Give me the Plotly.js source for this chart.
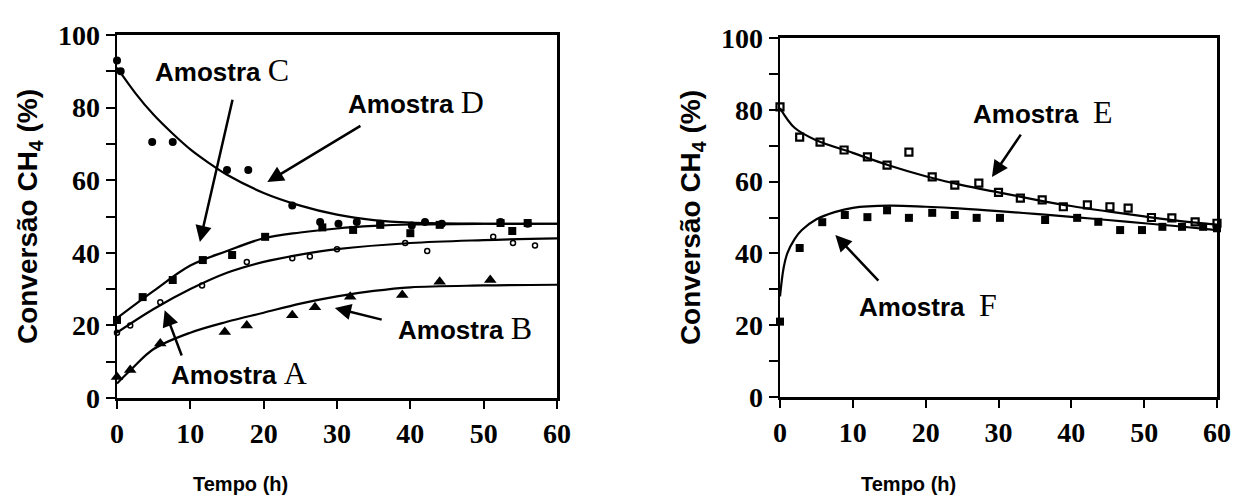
<!DOCTYPE html>
<html>
<head>
<meta charset="utf-8">
<script src="https://cdn.plot.ly/plotly-3.0.1.min.js"></script>
<style>html,body{margin:0;padding:0;background:#fff;}#chart{width:1242px;height:504px;}</style>
</head>
<body>
<div id="chart"></div>
<script>
// ---------- Left panel: measured points ----------
const tA = [0, 1.8, 5.9, 14.7, 17.7, 23.9, 27, 31.8, 38.9, 44, 50.9];
const convA = [5.8, 7.7, 15, 18.2, 20, 22.8, 25, 27.9, 28.4, 32, 32.5];

const tB = [0, 1.8, 5.9, 11.6, 17.7, 23.9, 26.3, 30, 39.3, 42.3, 51.3, 54, 57];
const convB = [18, 20, 26.4, 31, 37.5, 38.5, 39, 41, 42.7, 40.5, 44.4, 42.7, 42];

const tC = [0, 3.5, 7.6, 11.7, 15.7, 20.2, 28, 32.2, 35.9, 40, 44, 52.3, 53.9, 56];
const convC = [21.5, 27.8, 32.5, 38, 39.4, 44.4, 47, 46.3, 47.7, 45.4, 47.7, 48.2, 46, 48.2];

const tD = [0, 0.5, 4.8, 7.6, 15, 17.9, 23.9, 27.7, 30.2, 32.7, 35.9, 40.2, 42, 44.3, 52.3, 56];
const convD = [93, 90, 70.5, 70.5, 62.8, 62.8, 53, 48.5, 48, 48.5, 48, 47.5, 48.5, 48, 48.5, 48];

// ---------- Left panel: fitted curves ----------
const fitAx = [0, 2, 5, 10, 15, 20, 25, 30, 35, 40, 50, 60];
const fitAy = [4, 8, 13.5, 18, 21, 23.5, 26, 28, 29.5, 30.5, 31, 31.2];
const fitBx = [0, 5, 10, 15, 20, 25, 30, 40, 50, 60];
const fitBy = [18, 24.5, 30, 34.5, 37.5, 39.5, 41, 42.7, 43.5, 44];
const fitCx = [0, 5, 10, 15, 20, 25, 30, 35, 40, 50, 60];
const fitCy = [22, 29.5, 36.5, 40.5, 44, 45.6, 46.7, 47.4, 47.8, 48, 48];
const fitDx = [0, 2.5, 5, 7.5, 10, 12.5, 15, 20, 25, 30, 35, 40, 50, 60];
const fitDy = [91, 84, 78, 73, 68.5, 64.8, 61.5, 56.5, 53, 50.5, 49, 48.3, 48, 48];

// ---------- Right panel: measured points ----------
const tE = [0, 2.7, 5.5, 8.8, 12, 14.7, 17.7, 20.9, 24, 27.3, 30, 33, 36, 38.9, 42.2, 45.3, 47.8, 51, 53.8, 57, 60];
const convE = [80.8, 72.4, 71, 68.8, 66.9, 64.6, 68.2, 61.3, 59, 59.6, 57, 55.4, 54.9, 53, 53.5, 53, 52.6, 50, 49.9, 48.8, 48.4];

const tF = [0, 2.7, 5.8, 8.9, 12, 14.7, 17.7, 20.9, 24, 27, 30.2, 36.4, 40.8, 43.7, 46.7, 49.7, 52.5, 55.2, 58.1, 60];
const convF = [21, 41.5, 48.7, 50.7, 50.1, 52, 49.9, 51.3, 50.7, 49.9, 49.9, 49.3, 49.9, 48.8, 46.5, 46.5, 47.4, 47.4, 47.4, 47];

// ---------- Right panel: fitted curves ----------
const fitEx = [0, 2, 5, 10, 15, 20, 25, 30, 35, 40, 45, 50, 55, 60];
const fitEy = [80.5, 75, 71.5, 68, 64.5, 61.5, 59, 57, 55, 53.2, 51.7, 50.3, 49, 48];
const fitFx = [0, 0.5, 1, 2, 3, 5, 7.5, 10, 15, 20, 25, 30, 35, 40, 45, 50, 55, 60];
const fitFy = [28, 36, 40, 44, 46.5, 49.5, 51.5, 52.7, 53.3, 53, 52.5, 51.8, 51, 50.2, 49.3, 48.4, 47.5, 46.5];

// ---------- Axis ticks and titles ----------
const xTicks = [0, 10, 20, 30, 40, 50, 60];
const xTickText = ['0', '10', '20', '30', '40', '50', '60'];
const yTicks = [0, 20, 40, 60, 80, 100];
const yTickText = ['0', '20', '40', '60', '80', '100'];
const yMinorStep = 10;
const xTitle = 'Tempo (h)';
const yTitle = 'Conversão CH<sub>4</sub> (%)';

const black = '#000';
function pts(x, y, xa, ya, sym, size, lw) {
  return {x: x, y: y, xaxis: xa, yaxis: ya, type: 'scatter', mode: 'markers',
    marker: {symbol: sym, size: size, color: black, line: {color: black, width: lw || 0}},
    showlegend: false, hoverinfo: 'skip', cliponaxis: false};
}
function fit(x, y, xa, ya) {
  return {x: x, y: y, xaxis: xa, yaxis: ya, type: 'scatter', mode: 'lines',
    line: {color: black, width: 2.2, shape: 'spline', smoothing: 1.0},
    showlegend: false, hoverinfo: 'skip'};
}

const data = [
  fit(fitAx, fitAy, 'x', 'y'), fit(fitBx, fitBy, 'x', 'y'), fit(fitCx, fitCy, 'x', 'y'), fit(fitDx, fitDy, 'x', 'y'),
  pts(tA, convA, 'x', 'y', 'triangle-up', 11),
  pts(tB, convB, 'x', 'y', 'circle-open', 5, 1.5),
  pts(tC, convC, 'x', 'y', 'square', 8),
  pts(tD, convD, 'x', 'y', 'circle', 8),
  fit(fitEx, fitEy, 'x2', 'y2'), fit(fitFx, fitFy, 'x2', 'y2'),
  pts(tE, convE, 'x2', 'y2', 'square-open', 7, 2.2),
  pts(tF, convF, 'x2', 'y2', 'square', 8)
];

const tickFont = {family: 'Liberation Serif, Times New Roman, serif', size: 28, color: black, weight: 'bold'};
const yTitleFont = {family: 'Liberation Sans, Arial, sans-serif', size: 28, color: black, weight: 'bold'};
const xTitleFont = {family: 'Liberation Sans, Arial, sans-serif', size: 20, color: black, weight: 'bold'};
function xax(dom) {
  return {domain: dom, range: [0, 60], tickvals: xTicks, ticktext: xTickText, ticks: 'outside', ticklen: 8,
    tickwidth: 2, tickcolor: black, showline: true, linewidth: 3, linecolor: black, mirror: true,
    showgrid: false, zeroline: false, tickfont: tickFont, fixedrange: true};
}
function yax(dom, anchor) {
  return {domain: dom, anchor: anchor, range: [0, 100], tickvals: yTicks, ticktext: yTickText, ticks: 'outside', ticklen: 9,
    tickwidth: 2, tickcolor: black, showline: true, linewidth: 2.5, linecolor: black, mirror: true,
    minor: {dtick: yMinorStep, tick0: 0, ticks: 'outside', ticklen: 9, tickwidth: 2, tickcolor: black, showgrid: false},
    showgrid: false, zeroline: false, tickfont: tickFont, ticklabelstandoff: 0, fixedrange: true,
    title: {text: yTitle, font: yTitleFont, standoff: 12}};
}

const lblFont = {family: 'Liberation Sans, Arial, sans-serif', size: 26, color: black, weight: 'bold'};
function serif(ch) { return '<span style="font-family:Liberation Serif;font-size:32px;font-weight:normal">' + ch + '</span>'; }
function label(text, x, y, xr, yr) {
  return {text: text, x: x, y: y, xref: xr, yref: yr, showarrow: false, font: lblFont, xanchor: 'center', yanchor: 'middle'};
}
function arrow(hx, hy, tx, ty, xr, yr) {
  return {text: '', x: hx, y: hy, ax: tx, ay: ty, xref: xr, yref: yr, axref: xr, ayref: yr,
    showarrow: true, arrowhead: 2, arrowsize: 1.3, arrowwidth: 2.5, arrowcolor: black, standoff: 0};
}
function xTitleNote(px) {
  return {text: xTitle, x: px / 1242, y: (504 - 484) / 504, xref: 'paper', yref: 'paper',
    showarrow: false, font: xTitleFont, xanchor: 'center', yanchor: 'middle'};
}

const layout = {
  width: 1242, height: 504,
  margin: {l: 0, r: 0, t: 0, b: 0},
  paper_bgcolor: '#fff', plot_bgcolor: '#fff',
  xaxis: xax([117 / 1242, 557 / 1242]),
  yaxis: yax([106 / 504, 469 / 504], 'x'),
  xaxis2: Object.assign(xax([780 / 1242, 1217 / 1242]), {anchor: 'y2'}),
  yaxis2: yax([107 / 504, 466 / 504], 'x2'),
  annotations: [
    label('Amostra ' + serif('C'), 14.3, 90.4, 'x', 'y'),
    label('Amostra ' + serif('D'), 40.8, 81.5, 'x', 'y'),
    label('Amostra ' + serif('B'), 47.5, 19.3, 'x', 'y'),
    label('Amostra ' + serif('A'), 16.6, 6.9, 'x', 'y'),
    arrow(11.3, 43.0, 15.8, 82.6, 'x', 'y'),
    arrow(20.5, 59.5, 33.4, 75.2, 'x', 'y'),
    arrow(29.7, 24.8, 36.3, 21.5, 'x', 'y'),
    arrow(6.5, 24.2, 8.9, 11.3, 'x', 'y'),
    label('Amostra&nbsp; ' + serif('E'), 36, 79.4, 'x2', 'y2'),
    label('Amostra&nbsp; ' + serif('F'), 20.3, 25.6, 'x2', 'y2'),
    arrow(29.1, 61.3, 33.2, 73.5, 'x2', 'y2'),
    arrow(7.6, 45.1, 13.7, 32, 'x2', 'y2'),
    xTitleNote(240),
    xTitleNote(908)
  ]
};

Plotly.newPlot('chart', data, layout, {staticPlot: true, displayModeBar: false});
</script>
</body>
</html>
